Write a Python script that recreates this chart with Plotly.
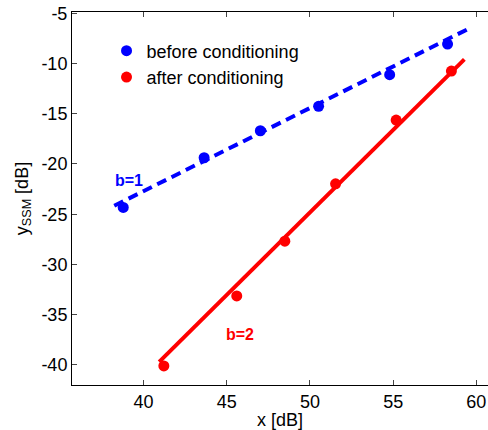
import plotly.graph_objects as go

# data
before_x = [38.78, 43.64, 47.02, 50.52, 54.79, 58.27]
before_y = [-24.32, -19.38, -16.69, -14.26, -11.11, -8.06]
after_x = [41.22, 45.60, 48.49, 51.54, 55.18, 58.50]
after_y = [-40.10, -33.13, -27.68, -21.97, -15.63, -10.75]

before_fit_x = [38.24, 59.71]
before_fit_y = [-24.16, -6.39]
after_fit_x = [40.94, 59.28]
after_fit_y = [-39.70, -9.58]

x_ticks = [40, 45, 50, 55, 60]
y_ticks = [-5, -10, -15, -20, -25, -30, -35, -40]
y_tick_labels = ["-5", "-10", "-15", "-20", "-25", "-30", "-35", "-40"]

BLUE = "#0000ff"
RED = "#ff0000"
FONT = "Liberation Sans, Arial, sans-serif"

fig = go.Figure()
fig.add_trace(go.Scatter(x=before_fit_x, y=before_fit_y, mode="lines",
                         line=dict(color=BLUE, width=4, dash="10px,6px"),
                         showlegend=False, hoverinfo="skip"))
fig.add_trace(go.Scatter(x=after_fit_x, y=after_fit_y, mode="lines",
                         line=dict(color=RED, width=4),
                         showlegend=False, hoverinfo="skip"))
fig.add_trace(go.Scatter(x=before_x, y=before_y, mode="markers",
                         marker=dict(color=BLUE, size=11),
                         name="before conditioning"))
fig.add_trace(go.Scatter(x=after_x, y=after_y, mode="markers",
                         marker=dict(color=RED, size=11),
                         name="after conditioning"))

fig.add_annotation(x=39.12, y=-21.6, text="<b>b=1</b>", showarrow=False,
                   font=dict(color=BLUE, size=16, family=FONT))
fig.add_annotation(x=45.78, y=-36.97, text="<b>b=2</b>", showarrow=False,
                   font=dict(color=RED, size=16, family=FONT))

fig.update_layout(
    width=488, height=430,
    margin=dict(l=72, r=0, t=12, b=45),
    paper_bgcolor="white", plot_bgcolor="white",
    font=dict(family=FONT, size=18, color="black"),
    showlegend=True,
    legend=dict(x=0.083, y=0.945, xanchor="left", yanchor="top",
                bgcolor="rgba(0,0,0,0)", font=dict(size=18),
                itemwidth=30, tracegroupgap=0),
    xaxis=dict(range=[35.7, 60.7], tickvals=x_ticks, ticks="inside", ticklen=5,
               showline=True, linecolor="black", linewidth=1, mirror="ticks",
               showgrid=False, zeroline=False,
               title=dict(text="x [dB]", standoff=5, font=dict(size=18)),
               tickfont=dict(size=18)),
    yaxis=dict(range=[-42.0, -4.87], tickvals=y_ticks, ticktext=y_tick_labels,
               ticks="inside", ticklen=5,
               showline=True, linecolor="black", linewidth=1, mirror=False,
               showgrid=False, zeroline=False,
               title=dict(text="y<sub>SSM</sub> [dB]", standoff=8, font=dict(size=18)),
               tickfont=dict(size=18)),
)

fig.write_html("out.html",
               config={"displayModeBar": False},
               post_script="document.body.style.margin='0px';document.body.style.overflow='hidden';")
